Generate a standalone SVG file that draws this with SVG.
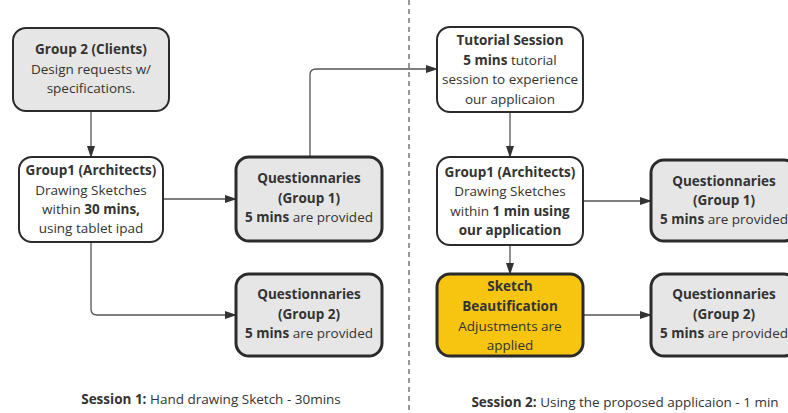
<svg xmlns="http://www.w3.org/2000/svg" width="788" height="413" viewBox="0 0 788 413">
<defs>
<marker id="arr" markerWidth="12" markerHeight="8" refX="11" refY="4" orient="auto" markerUnits="userSpaceOnUse">
<path d="M0,0 L12,4 L0,8 z" fill="#333"/>
</marker>
<style>
text{font-family:"Open Sans","Noto Sans","Liberation Sans",sans-serif;font-size:13.5px;fill:#333;text-anchor:middle}
.b{font-weight:bold}
.gray{fill:#e6e6e6;stroke:#2b2b2b;stroke-width:2}
.white{fill:#fff;stroke:#2b2b2b;stroke-width:2}
.q{fill:#e6e6e6;stroke:#2b2b2b;stroke-width:3}
.yel{fill:#f7c510;stroke:#2b2b2b;stroke-width:3}
.c{fill:none;stroke:#555;stroke-width:1.3;marker-end:url(#arr)}
</style>
</defs>
<rect width="788" height="413" fill="#fff"/>
<line x1="409" y1="0" x2="409" y2="413" stroke="#555" stroke-width="1.2" stroke-dasharray="5,4"/>
<g id="connectors">
<path class="c" d="M91,111 V157"/>
<path class="c" d="M163,199 H236"/>
<path class="c" d="M91,242 V309 Q91,315 97,315 H236"/>
<path class="c" d="M310,157 V75 Q310,69 316,69 H437"/>
<path class="c" d="M510,112 V157"/>
<path class="c" d="M583,201 H651"/>
<path class="c" d="M510,245 V274"/>
<path class="c" d="M583,315 H651"/>
</g>
<g id="clients">
<rect class="gray" x="13" y="28" width="156" height="83" rx="13"/>
<text x="91" y="54" class="b">Group 2 (Clients)</text>
<text x="91" y="74">Design requests w/</text>
<text x="91" y="93">specifications.</text>
</g>
<g id="arch1">
<rect class="white" x="19" y="157" width="144" height="85" rx="13"/>
<text x="91" y="175" class="b">Group1 (Architects)</text>
<text x="91" y="195">Drawing Sketches</text>
<text x="91" y="214">within <tspan class="b">30 mins,</tspan></text>
<text x="91" y="233">using tablet ipad</text>
</g>
<g id="q1left">
<rect class="q" x="236" y="157" width="146" height="84" rx="13"/>
<text x="309" y="183" class="b">Questionnaries</text>
<text x="309" y="203" class="b">(Group 1)</text>
<text x="309" y="222"><tspan class="b">5 mins</tspan> are provided</text>
</g>
<g id="q2left">
<rect class="q" x="236" y="274" width="146" height="82" rx="13"/>
<text x="309" y="299" class="b">Questionnaries</text>
<text x="309" y="319" class="b">(Group 2)</text>
<text x="309" y="338"><tspan class="b">5 mins</tspan> are provided</text>
</g>
<g id="tutorial">
<rect class="white" x="437" y="27" width="146" height="85" rx="13"/>
<text x="510" y="45" class="b">Tutorial Session</text>
<text x="510" y="65"><tspan class="b">5 mins</tspan> tutorial</text>
<text x="510" y="84">session to experience</text>
<text x="510" y="104">our applicaion</text>
</g>
<g id="arch2">
<rect class="white" x="437" y="157" width="146" height="88" rx="13"/>
<text x="510" y="177" class="b">Group1 (Architects)</text>
<text x="510" y="196">Drawing Sketches</text>
<text x="510" y="216">within <tspan class="b">1 min using</tspan></text>
<text x="510" y="235" class="b">our application</text>
</g>
<g id="q1right">
<rect class="q" x="651" y="160" width="146" height="81" rx="13"/>
<text x="724" y="186" class="b">Questionnaries</text>
<text x="724" y="205" class="b">(Group 1)</text>
<text x="724" y="224"><tspan class="b">5 mins</tspan> are provided</text>
</g>
<g id="sketch">
<rect class="yel" x="437" y="274" width="146" height="82" rx="13"/>
<text x="510" y="291" class="b">Sketch</text>
<text x="510" y="311" class="b">Beautification</text>
<text x="510" y="331">Adjustments are</text>
<text x="510" y="350">applied</text>
</g>
<g id="q2right">
<rect class="q" x="651" y="274" width="146" height="82" rx="13"/>
<text x="724" y="299" class="b">Questionnaries</text>
<text x="724" y="319" class="b">(Group 2)</text>
<text x="724" y="338"><tspan class="b">5 mins</tspan> are provided</text>
</g>
<g id="labels">
<text x="211" y="404"><tspan class="b">Session 1:</tspan> Hand drawing Sketch - 30mins</text>
<text x="625" y="407"><tspan class="b">Session 2:</tspan> Using the proposed applicaion - 1 min</text>
</g>
</svg>
